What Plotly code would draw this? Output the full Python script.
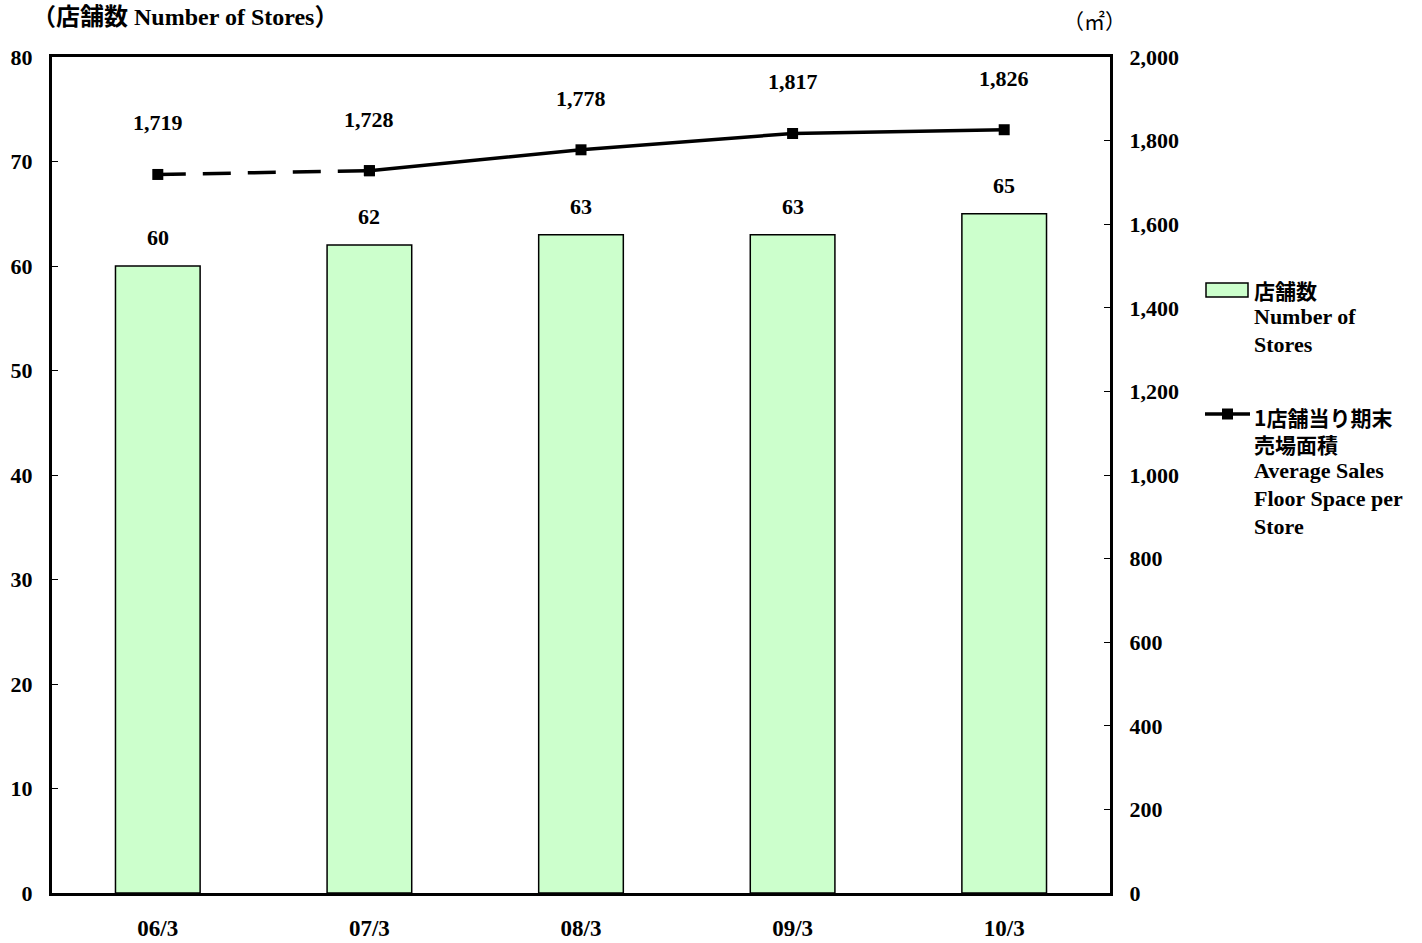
import plotly.graph_objects as go

# ---- data ----
categories = ["06/3", "07/3", "08/3", "09/3", "10/3"]
stores = [60, 62, 63, 63, 65]
floor_space = [1719, 1728, 1778, 1817, 1826]
floor_labels = ["1,719", "1,728", "1,778", "1,817", "1,826"]
left_ticks = [0, 10, 20, 30, 40, 50, 60, 70, 80]
right_ticks = [0, 200, 400, 600, 800, 1000, 1200, 1400, 1600, 1800, 2000]
right_tick_text = ["0", "200", "400", "600", "800", "1,000", "1,200", "1,400", "1,600", "1,800", "2,000"]

W, H = 1422, 943
L, R, T, B = 52, 1110, 57, 893
SERIF = "Liberation Serif, Noto Sans CJK JP"
CJK = "Noto Sans CJK JP, Liberation Serif"
BAR_COLOR = "#CCFFCC"
FS = 22

def px(x):
    return (x - L) / (R - L)

def py(y):
    return (B - y) / (B - T)

fig = go.Figure()
fig.add_trace(go.Bar(
    x=categories, y=stores, name="店舗数",
    marker=dict(color=BAR_COLOR, line=dict(color="black", width=1.5)),
    yaxis="y", showlegend=False,
))
# dashed first segment
fig.add_trace(go.Scatter(
    x=categories[:2], y=floor_space[:2], yaxis="y2", mode="lines+markers",
    line=dict(color="black", width=3.5, dash="28px,17px"),
    marker=dict(symbol="square", size=11, color="black"), showlegend=False,
))
fig.add_trace(go.Scatter(
    x=categories[1:], y=floor_space[1:], yaxis="y2", mode="lines+markers",
    line=dict(color="black", width=3.5),
    marker=dict(symbol="square", size=11, color="black"), showlegend=False,
))

annotations = []
for c, v in zip(categories, stores):
    annotations.append(dict(x=c, y=v, xref="x", yref="y", text=str(v), showarrow=False,
                            yanchor="bottom", yshift=14,
                            font=dict(family=SERIF, size=FS, color="black", weight="bold")))
for c, v, t in zip(categories, floor_space, floor_labels):
    annotations.append(dict(x=c, y=v, xref="x", yref="y2", text=t, showarrow=False,
                            yanchor="bottom", yshift=37,
                            font=dict(family=SERIF, size=FS, color="black", weight="bold")))

# titles
annotations.append(dict(x=px(30), y=py(17), xref="paper", yref="paper", xanchor="left", yanchor="middle",
                        text="（店舗数 Number of Stores）", showarrow=False,
                        font=dict(family=SERIF, size=24, color="black", weight="bold")))
annotations.append(dict(x=px(1094), y=py(22), xref="paper", yref="paper", xanchor="center", yanchor="middle",
                        text="（㎡）", showarrow=False,
                        font=dict(family=SERIF, size=21, color="black")))

# custom legend
shapes = [
    dict(type="rect", xref="paper", yref="paper", x0=px(1206), x1=px(1248), y0=py(297), y1=py(283),
         fillcolor=BAR_COLOR, line=dict(color="black", width=1.5)),
    dict(type="line", xref="paper", yref="paper", x0=px(1205), x1=px(1250), y0=py(414), y1=py(414),
         line=dict(color="black", width=3.5)),
    dict(type="rect", xref="paper", yref="paper", x0=px(1222), x1=px(1233), y0=py(419.5), y1=py(408.5),
         fillcolor="black", line=dict(color="black", width=0)),
]
leg_texts = [
    (290, "店舗数", CJK, 21),
    (316, "Number of", SERIF, 22),
    (344, "Stores", SERIF, 22),
    (430.5, "1店舗当り期末<br>売場面積", CJK, 21),
    (470, "Average Sales", SERIF, 22),
    (498, "Floor Space per", SERIF, 22),
    (526, "Store", SERIF, 22),
]
for yy, t, fam, sz in leg_texts:
    annotations.append(dict(x=px(1252), y=py(yy), xref="paper", yref="paper", xanchor="left", yanchor="middle",
                            text=t, showarrow=False, align="left",
                            font=dict(family=fam, size=sz, color="black", weight="bold")))

fig.update_layout(
    width=W, height=H,
    margin=dict(l=L, r=W - R, t=T, b=H - B, autoexpand=False),
    paper_bgcolor="white", plot_bgcolor="white",
    bargap=0.6,
    showlegend=False,
    xaxis=dict(type="category", showline=True, linecolor="black", linewidth=3, mirror=True,
               ticks="", showgrid=False, ticklabelstandoff=12,
               tickfont=dict(family=SERIF, size=23, color="black", weight="bold")),
    yaxis=dict(range=[0, 80], tickvals=left_ticks, showline=True, linecolor="black", linewidth=3,
               ticks="inside", ticklen=6, tickwidth=1, tickcolor="black", showgrid=False, zeroline=False,
               ticklabelstandoff=12,
               tickfont=dict(family=SERIF, size=FS, color="black", weight="bold")),
    yaxis2=dict(range=[0, 2000], tickvals=right_ticks, ticktext=right_tick_text, overlaying="y", side="right",
                showline=True, linecolor="black", linewidth=3,
                ticks="inside", ticklen=6, tickwidth=1, tickcolor="black", showgrid=False, zeroline=False,
                ticklabelstandoff=12,
                tickfont=dict(family=SERIF, size=FS, color="black", weight="bold")),
    annotations=annotations,
    shapes=shapes,
)

fig.write_html("out.html", config={"displayModeBar": False},
               post_script="document.body.style.margin='0';document.body.style.overflow='hidden';")
